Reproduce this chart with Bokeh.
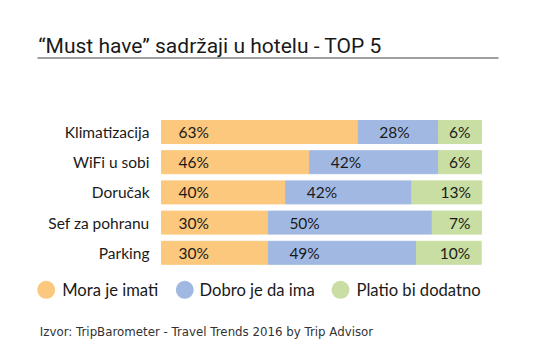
from bokeh.plotting import figure
from bokeh.models import Range1d, ColumnDataSource
from bokeh.core.properties import value
from bokeh.embed import file_html
from bokeh.resources import INLINE

# ---- data ----
categories = ["Klimatizacija", "WiFi u sobi", "Doručak", "Sef za pohranu", "Parking"]
series_names = ["Mora je imati", "Dobro je da ima", "Platio bi dodatno"]
# printed percentages
must_pct = [63, 46, 40, 30, 30]
good_pct = [28, 42, 42, 50, 49]
pay_pct = [6, 6, 13, 7, 10]
# segment lengths as drawn (share of the bar length)
must_len = [61.5, 46.3, 38.8, 33.4, 33.4]
good_len = [25.1, 40.3, 39.4, 51.2, 46.3]
pay_len = [13.4, 13.4, 21.9, 15.4, 20.2]
title_text = "\u201cMust have\u201d sadržaji u hotelu - TOP 5"
source_text = "Izvor: TripBarometer - Travel Trends 2016 by Trip Advisor"

colors = ["#FCC87D", "#A1B9E2", "#C9DEA2"]

W, H = 524, 344
PXU = 3.2          # pixels per unit on x
X0PX = 161         # pixel where x=0
def px(xp):
    return xp / PXU - X0PX / PXU

p = figure(width=W, height=H, output_backend="svg", toolbar_location=None,
           title=None, x_axis_location=None, y_axis_location=None,
           x_range=Range1d(px(0), px(W)), y_range=Range1d(H, 0),
           min_border=0, outline_line_color=None, background_fill_color="white",
           border_fill_color="white")
p.grid.visible = False

n = len(categories)
y0, pitch, bh = 131.5, 30.2, 23
ys = [y0 + i * pitch for i in range(n)]

l0 = [0.0] * n
r0 = [a for a in must_len]
r1 = [a + b for a, b in zip(must_len, good_len)]
r2 = [a + b + c for a, b, c in zip(must_len, good_len, pay_len)]

src = ColumnDataSource(dict(y=ys, l0=l0, r0=r0, r1=r1, r2=r2, cat=categories,
                            m=[f"{v}%" for v in must_pct],
                            g=[f"{v}%" for v in good_pct],
                            pp=[f"{v}%" for v in pay_pct]))

p.hbar(y="y", left="l0", right="r0", height=bh, color=colors[0], source=src)
p.hbar(y="y", left="r0", right="r1", height=bh, color=colors[1], source=src)
p.hbar(y="y", left="r1", right="r2", height=bh, color=colors[2], source=src)

font = value("Lato")
tc = "#1a1a1a"
# category labels
p.text(x=px(149), y="y", text="cat", source=src, text_align="right",
       text_baseline="middle", text_font=font, text_font_size="15.5px", text_color=tc)
# value labels
src.data["xm"] = [v + 17 / PXU for v in l0]
src.data["xg"] = [v + 21 / PXU for v in r0]
src.data["xp"] = [v - 11 / PXU for v in r2]
p.text(x="xm", y="y", text="m", source=src, text_align="left", text_baseline="middle",
       text_font=font, text_font_size="15.5px", text_color=tc)
p.text(x="xg", y="y", text="g", source=src, text_align="left", text_baseline="middle",
       text_font=font, text_font_size="15.5px", text_color=tc)
p.text(x="xp", y="y", text="pp", source=src, text_align="right", text_baseline="middle",
       text_font=font, text_font_size="15.5px", text_color=tc)

# title + rule
p.text(x=[px(37.7)], y=[45], text=[title_text], text_align="left", text_baseline="alphabetic",
       text_font=value("Roboto"), text_font_size="21px", text_color=tc)
p.segment(x0=[px(37)], y0=[57.5], x1=[px(498)], y1=[57.5], line_color="#a0a0a0", line_width=2)

# legend
leg_cx = [45.7, 184.3, 340]
leg_tx = [61.7, 199, 356]
ly = 289.3
p.scatter(x=[px(v) for v in leg_cx], y=[ly] * 3, size=18, marker="circle",
          color=colors, line_color=None)
p.text(x=[px(v) for v in leg_tx], y=[ly] * 3, text=series_names, text_align="left",
       text_baseline="middle", text_font=font, text_font_size="16.6px", text_color=tc)

# source
p.text(x=[px(39.3)], y=[331], text=[source_text], text_align="left", text_baseline="middle",
       text_font=value("DejaVu Sans"), text_font_size="11.8px", text_color="#333333")

open("out.html", "w").write(file_html(p, INLINE))
